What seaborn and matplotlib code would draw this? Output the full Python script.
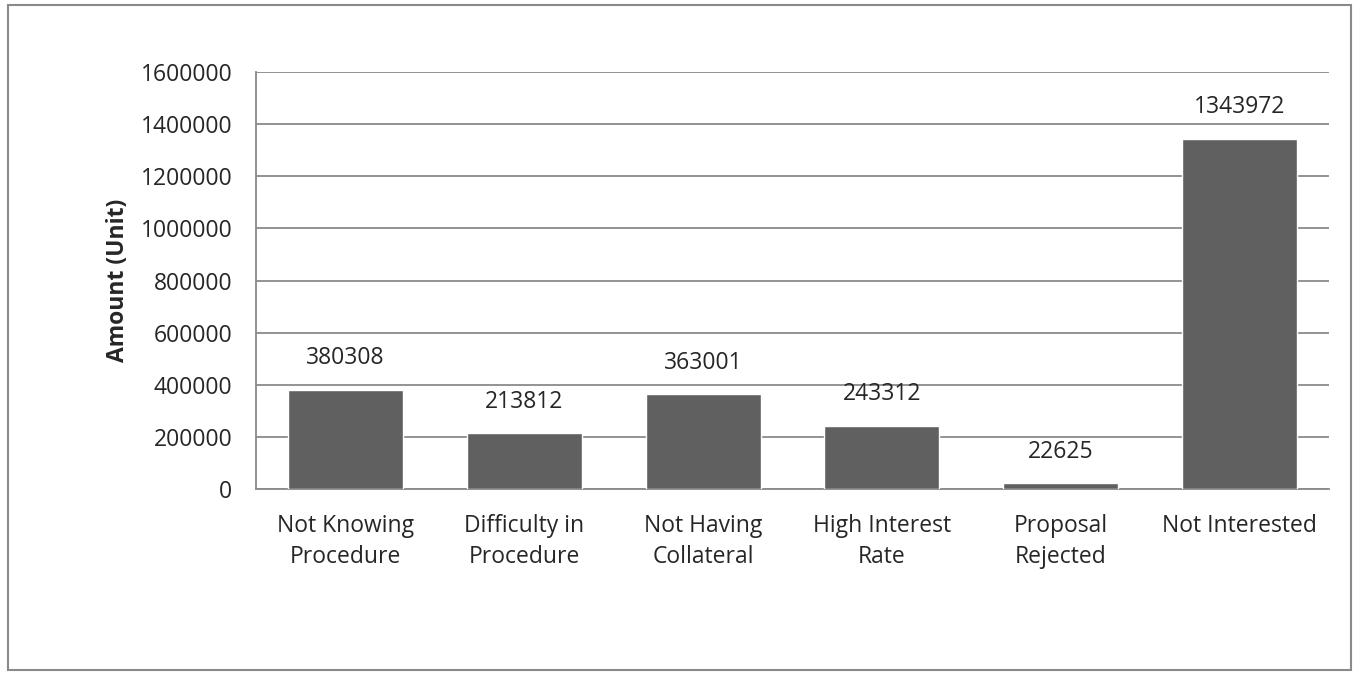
import matplotlib
matplotlib.use("Agg")
import matplotlib.pyplot as plt
import seaborn as sns
import pandas as pd
from matplotlib.patches import Rectangle

categories = ["Not Knowing\nProcedure", "Difficulty in\nProcedure", "Not Having\nCollateral",
              "High Interest\nRate", "Proposal\nRejected", "Not Interested"]
values = [380308, 213812, 363001, 243312, 22625, 1343972]
yticks = [0, 200000, 400000, 600000, 800000, 1000000, 1200000, 1400000, 1600000]

sns.set_style("white")
plt.rcParams['font.family'] = ['Open Sans', 'DejaVu Sans']
FS = 16.5

fig = plt.figure(figsize=(13.58, 6.79), dpi=100)
ax = fig.add_axes([256/1358, 1-489/679, (1329-256)/1358, (489-72)/679])

df = pd.DataFrame({"cat": categories, "val": values})
sns.barplot(data=df, x="cat", y="val", color="#606060", saturation=1, width=0.643, ax=ax, zorder=3)

ax.set_ylim(0, 1600000)
ax.set_yticks(yticks)
ax.set_yticklabels([str(v) for v in yticks], fontsize=FS)
ax.set_xticks(range(len(categories)))
ax.set_xticklabels(categories, fontsize=FS, linespacing=1.4)
ax.tick_params(axis='y', length=0, pad=17)
ax.tick_params(axis='x', length=0, pad=18)
ax.set_xlim(-0.5, len(categories)-0.5)
ax.yaxis.grid(True, color="#8a8a8a", linewidth=1.3, zorder=0)
ax.set_axisbelow(True)
for s in ["top", "right"]:
    ax.spines[s].set_visible(False)
for s in ["left", "bottom"]:
    ax.spines[s].set_color("#8a8a8a")
    ax.spines[s].set_linewidth(1.3)
ax.set_xlabel("")
ax.set_ylabel("Amount (Unit)", fontsize=FS, fontweight="bold", labelpad=8)

ax.bar_label(ax.containers[0], labels=[str(v) for v in values], padding=14, fontsize=FS)

fig.patches.append(Rectangle((8/1358, 1-670/679), (1351-8)/1358, (670-5)/679,
                             transform=fig.transFigure, fill=False, edgecolor="#8a8a8a", linewidth=1.5))

fig.savefig("out.png", dpi=100)
